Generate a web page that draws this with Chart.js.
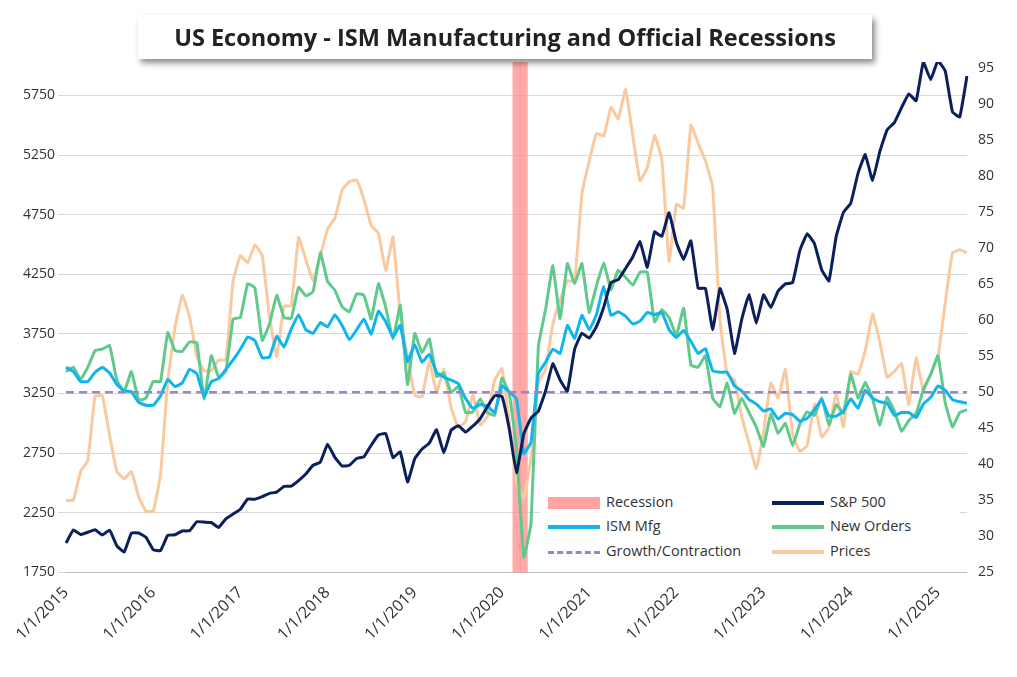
<!DOCTYPE html>
<html>
<head>
<meta charset="utf-8">
<script src="https://cdn.jsdelivr.net/npm/chart.js@4"></script>
<style>
  body { margin: 0; background: #fff; font-family: "Open Sans", "Noto Sans", sans-serif; }
  #wrap { position: relative; width: 1017px; height: 677px; }
  #title { position: absolute; left: 138px; top: 15px; width: 734px; height: 44px; background: #fff; white-space: nowrap;
    box-shadow: 3px 4px 6px rgba(0,0,0,0.45); text-align: center; line-height: 44px;
    font-size: 23.5px; font-weight: bold; color: #222; }
  #legend { position: absolute; left: 540px; top: 488px; width: 420px; height: 78px; background: #fff; font-size: 14.5px; color: #333; }
  .item { position: absolute; height: 20px; line-height: 20px; }
  .icon { display: inline-block; width: 52px; vertical-align: middle; margin-right: 6px; }
</style>
</head>
<body>
<div id="wrap">
  <canvas id="myChart" width="1017" height="677"></canvas>
  <div id="title">US Economy - ISM Manufacturing and Official Recessions</div>
  <div id="legend">
    <div class="item" style="left:8px;top:4px"><span class="icon" style="height:12px;background:#ffa3a3"></span>Recession</div>
    <div class="item" style="left:232px;top:4px"><span class="icon" style="height:4px;background:#0b1f5c"></span>S&amp;P 500</div>
    <div class="item" style="left:8px;top:28px"><span class="icon" style="height:4px;background:#10b4ee"></span>ISM Mfg</div>
    <div class="item" style="left:232px;top:28px"><span class="icon" style="height:4px;background:#5fca8c"></span>New Orders</div>
    <div class="item" style="left:8px;top:53px"><span class="icon" style="height:0;border-top:3px dashed #9a86c6"></span>Growth/Contraction</div>
    <div class="item" style="left:232px;top:53px"><span class="icon" style="height:4px;background:#f9c9a0"></span>Prices</div>
  </div>
</div>
<script>
// monthly, Jan 2015 .. May 2025
const labels = [];
for (let y = 2015; y <= 2025; y++) for (let m = 1; m <= 12; m++) if (y < 2025 || m <= 5) labels.push(m + "/1/" + y);

const sp500 = [1995,2105,2068,2086,2107,2063,2104,1972,1920,2079,2080,2044,
  1940,1932,2060,2065,2097,2099,2174,2171,2168,2126,2199,2239,
  2279,2364,2363,2384,2412,2423,2470,2472,2519,2575,2648,2674,
  2824,2714,2641,2648,2705,2718,2816,2902,2914,2712,2760,2507,
  2704,2784,2834,2946,2752,2942,2980,2926,2977,3038,3141,3231,
  3226,2954,2585,2912,3044,3100,3271,3500,3363,3270,3622,3756,
  3714,3811,3973,4181,4204,4298,4395,4523,4308,4605,4567,4766,
  4516,4374,4530,4132,4132,3785,4130,3955,3586,3872,4080,3840,
  4077,3970,4109,4169,4180,4450,4589,4508,4288,4194,4568,4770,
  4846,5096,5254,5036,5278,5460,5522,5648,5762,5705,6032,5882,
  6041,5955,5612,5569,5912];
const ismMfg = [53.5,52.9,51.5,51.5,52.8,53.5,52.7,51.1,50.2,50.1,48.6,48.2,
  48.2,49.5,51.8,50.8,51.3,53.2,52.6,49.4,51.5,51.9,53.2,54.5,
  56.0,57.7,57.2,54.8,54.9,57.8,56.3,58.8,60.8,58.7,58.2,59.7,
  59.1,60.8,59.3,57.3,58.7,60.2,58.1,61.3,59.8,57.7,59.3,54.3,
  56.6,54.2,55.3,52.8,52.1,51.7,51.2,49.1,47.8,48.3,48.1,47.2,
  50.9,50.1,49.1,41.5,43.1,52.6,54.2,56.0,55.4,59.3,57.5,60.7,
  58.7,60.8,64.7,60.7,61.2,60.6,59.5,59.9,61.1,60.8,61.1,58.7,
  57.6,58.6,57.1,55.4,56.1,53.0,52.8,52.8,50.9,50.2,49.0,48.4,
  47.4,47.7,46.3,47.1,46.9,46.0,46.4,47.6,49.0,46.7,46.7,47.4,
  49.1,47.8,50.3,49.2,48.7,48.5,46.8,47.2,47.2,46.5,48.4,49.3,
  50.9,50.3,49.0,48.7,48.5];
const newOrders = [52.9,53.5,51.8,53.5,55.8,56.0,56.5,51.7,50.1,52.9,48.9,49.2,
  51.5,51.5,58.3,55.8,55.7,57.0,56.9,49.1,55.1,52.1,53.0,60.2,
  60.4,65.1,64.5,57.2,59.5,63.5,60.4,60.3,64.6,63.4,64.0,69.4,
  65.4,64.2,61.9,61.2,63.7,63.5,60.2,65.1,61.8,57.4,62.1,51.1,
  58.2,55.5,57.4,52.2,52.7,50.0,50.8,47.2,47.3,49.1,47.2,46.8,
  52.0,49.8,42.2,27.1,31.8,56.4,61.5,67.6,60.2,67.9,65.1,67.9,
  61.1,64.8,68.0,64.3,67.0,66.0,64.9,66.7,66.7,59.8,61.5,60.4,
  57.9,61.7,53.8,53.5,55.1,49.2,48.0,51.3,47.1,49.2,47.2,45.2,
  42.5,47.0,44.3,45.7,42.6,45.6,47.3,46.8,49.2,45.5,48.3,47.1,
  52.5,49.2,51.4,49.1,45.4,49.3,47.4,44.6,46.1,47.1,50.4,52.5,
  55.1,48.6,45.2,47.2,47.6];
const prices = [35.0,35.0,39.0,40.5,49.5,49.5,44.0,39.0,38.0,39.0,35.5,33.5,
  33.5,38.5,51.5,59.0,63.5,60.5,55.0,53.0,53.0,54.5,54.5,65.5,
  69.0,68.0,70.5,69.0,60.5,55.0,62.0,62.0,71.5,68.5,65.5,69.0,
  72.7,74.2,78.1,79.3,79.5,76.8,73.2,72.1,66.9,71.6,60.7,54.9,
  49.6,49.4,54.3,50.0,53.2,47.9,45.1,46.0,49.7,45.5,46.7,51.7,
  53.3,45.9,37.4,35.3,40.8,51.3,53.2,59.5,62.8,65.5,65.4,77.6,
  82.1,86.0,85.6,89.6,88.0,92.1,85.7,79.4,81.2,85.7,82.4,68.2,
  76.1,75.6,87.1,84.6,82.2,78.5,60.0,52.5,51.7,46.6,43.0,39.4,
  44.5,51.3,49.2,53.2,44.2,41.8,42.6,48.4,43.8,45.1,49.9,45.2,
  52.9,52.5,55.8,60.9,57.0,52.1,52.9,54.0,48.3,54.8,50.3,52.5,
  54.9,62.4,69.4,69.8,69.4];
const growthLine = labels.map(() => 50);
const recessionMonths = ["3/1/2020", "4/1/2020"];
const recession = labels.map(l => recessionMonths.includes(l) ? 6100 : null);
const leftTicks = [1750,2250,2750,3250,3750,4250,4750,5250,5750];
const rightTicks = [25,30,35,40,45,50,55,60,65,70,75,80,85,90,95];

const line = (label, data, color, axis, extra) => Object.assign({
  type: "line", label, data, borderColor: color, borderWidth: 3, pointRadius: 0, yAxisID: axis, tension: 0.1
}, extra || {});

new Chart(document.getElementById("myChart"), {
  data: {
    labels,
    datasets: [
      line("Prices", prices, "#f9c9a0", "y1", { order: 5 }),
      line("New Orders", newOrders, "#5fca8c", "y1", { order: 4 }),
      line("ISM Mfg", ismMfg, "#10b4ee", "y1", { order: 3 }),
      line("Growth/Contraction", growthLine, "#9a86c6", "y1", { borderDash: [8, 5], borderWidth: 2.5, order: 2 }),
      line("S&P 500", sp500, "#0b1f5c", "y", { order: 1 }),
      { type: "bar", label: "Recession", data: recession, backgroundColor: "rgba(255,140,140,0.75)", yAxisID: "y",
        barPercentage: 1, categoryPercentage: 1, order: 10 },
    ],
  },
  options: {
    responsive: false,
    animation: false,
    layout: { padding: { top: 62, right: 20, left: 20, bottom: 30 } },
    plugins: { legend: { display: false }, tooltip: { enabled: false } },
    scales: {
      x: {
        offset: false,
        grid: { display: false },
        border: { color: "#bfbfbf" },
        ticks: {
          autoSkip: false, minRotation: 45, maxRotation: 45, color: "#333",
          font: { size: 16, family: "Open Sans" },
          callback: function (v) { const l = this.getLabelForValue(v); return l.startsWith("1/1/") ? l : null; },
        },
      },
      y: {
        position: "left", min: 1750, max: 6030,
        grid: { color: "#d9d9d9" }, border: { display: false },
        afterBuildTicks: s => { s.ticks = leftTicks.map(v => ({ value: v })); },
        ticks: { color: "#333", font: { size: 14, family: "Open Sans" }, callback: v => String(v) },
      },
      y1: {
        position: "right", min: 25, max: 95.9,
        grid: { display: false }, border: { display: false },
        afterBuildTicks: s => { s.ticks = rightTicks.map(v => ({ value: v })); },
        ticks: { color: "#333", font: { size: 14, family: "Open Sans" } },
      },
    },
  },
});
</script>
</body>
</html>
